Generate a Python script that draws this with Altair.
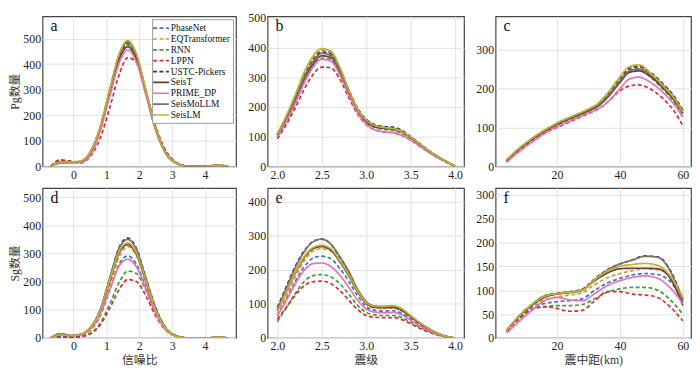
import altair as alt
import pandas as pd

MODELS = ["PhaseNet", "EQTransformer", "RNN", "LPPN", "USTC-Pickers",
          "SeisT", "PRIME_DP", "SeisMoLLM", "SeisLM"]
COLORS = ["#4272B8", "#F28A30", "#3C9C3C", "#D92B2B", "#4E2F60",
          "#6E3B2F", "#E872B8", "#7D6E6E", "#B8B42C"]
DASHES = [[4, 2.5]] * 5 + [[1, 0]] * 4
WIDTHS = [1.7] * 8 + [2.6]

X_SNR = [-0.7, -0.4, -0.1, 0.2, 0.5, 0.8, 1.1, 1.4, 1.65, 1.9, 2.2, 2.5, 2.8, 3.1, 3.5, 4.0, 4.4, 4.7]
X_MAG = [2.0, 2.1, 2.2, 2.3, 2.4, 2.5, 2.6, 2.7, 2.8, 2.9, 3.0, 3.1, 3.2, 3.3, 3.4, 3.5, 3.6, 3.7, 3.8, 3.9, 4.0]
X_DIST_P = [4, 8, 12, 16, 20, 25, 30, 33, 36, 40, 43, 46, 50, 54, 57, 60]
X_DIST_S = [4, 8, 12, 16, 20, 24, 28, 32, 36, 40, 44, 48, 52, 56, 60]

# a: Pg count vs SNR
PG_SNR = {
    "PhaseNet":      [0, 18, 16, 18, 52, 146, 294, 435, 482, 435, 294, 147, 54, 15, 0, 0, 3, 0],
    "EQTransformer": [0, 24, 20, 16, 48, 140, 288, 430, 478, 432, 292, 147, 54, 15, 0, 0, 3, 0],
    "RNN":           [0, 20, 18, 16, 45, 138, 286, 428, 476, 430, 292, 146, 54, 14, 0, 0, 3, 0],
    "LPPN":          [0, 25, 20, 12, 37, 106, 228, 363, 425, 408, 293, 157, 63, 18, 0, 0, 3, 0],
    "USTC-Pickers":  [0, 15, 15, 18, 52, 146, 296, 438, 485, 438, 296, 148, 54, 15, 0, 0, 4, 0],
    "SeisT":         [0, 14, 15, 18, 50, 142, 285, 422, 468, 422, 285, 143, 52, 14, 0, 0, 4, 0],
    "PRIME_DP":      [0, 12, 14, 14, 42, 132, 272, 408, 455, 412, 280, 142, 52, 14, 0, 0, 3, 0],
    "SeisMoLLM":     [0, 15, 16, 19, 54, 148, 297, 440, 488, 440, 297, 148, 54, 15, 0, 0, 5, 0],
    "SeisLM":        [0, 16, 17, 20, 55, 150, 300, 444, 492, 444, 300, 150, 55, 15, 0, 0, 5, 0],
}

# b: Pg count vs magnitude
PG_MAG = {
    "PhaseNet":      [106, 165, 232, 305, 362, 389, 382, 330, 256, 192, 150, 132, 127, 123, 114, 96, 74, 52, 33, 16, 0],
    "EQTransformer": [108, 168, 236, 310, 366, 392, 385, 332, 258, 193, 152, 134, 128, 124, 115, 97, 75, 53, 33, 16, 0],
    "RNN":           [100, 150, 210, 280, 336, 364, 360, 316, 248, 187, 148, 130, 124, 121, 112, 94, 72, 51, 32, 15, 0],
    "LPPN":          [93, 140, 196, 258, 308, 334, 332, 295, 233, 177, 140, 122, 116, 113, 104, 88, 68, 48, 30, 14, 0],
    "USTC-Pickers":  [105, 162, 228, 300, 356, 384, 378, 330, 260, 197, 158, 140, 134, 132, 121, 100, 77, 54, 34, 16, 0],
    "SeisT":         [104, 160, 222, 290, 343, 372, 366, 320, 250, 189, 150, 133, 128, 126, 116, 97, 74, 52, 33, 16, 0],
    "PRIME_DP":      [100, 152, 212, 280, 333, 360, 354, 310, 243, 182, 142, 122, 116, 113, 105, 88, 68, 48, 30, 14, 0],
    "SeisMoLLM":     [107, 163, 228, 298, 352, 380, 372, 325, 255, 193, 155, 137, 131, 128, 118, 98, 75, 53, 33, 16, 0],
    "SeisLM":        [110, 170, 240, 315, 370, 396, 388, 335, 260, 195, 155, 137, 131, 127, 117, 98, 76, 54, 34, 16, 0],
}

# c: Pg count vs epicentral distance
PG_DIST = {
    "PhaseNet":      [15, 44, 69, 90, 108, 126, 144, 158, 182, 222, 248, 252, 232, 200, 172, 135],
    "EQTransformer": [15, 45, 70, 92, 110, 128, 146, 160, 186, 230, 255, 258, 235, 200, 172, 135],
    "RNN":           [12, 40, 65, 88, 106, 124, 142, 155, 178, 218, 244, 248, 228, 196, 168, 125],
    "LPPN":          [12, 40, 64, 85, 100, 118, 136, 147, 165, 195, 207, 210, 198, 172, 145, 105],
    "USTC-Pickers":  [15, 45, 70, 92, 110, 128, 146, 160, 185, 226, 252, 257, 240, 210, 183, 145],
    "SeisT":         [16, 45, 69, 90, 108, 126, 143, 155, 177, 216, 242, 246, 230, 200, 174, 138],
    "PRIME_DP":      [10, 38, 62, 84, 102, 120, 138, 148, 165, 200, 225, 230, 215, 188, 162, 128],
    "SeisMoLLM":     [16, 46, 70, 92, 110, 128, 146, 158, 180, 220, 246, 251, 236, 207, 180, 142],
    "SeisLM":        [17, 47, 72, 93, 112, 130, 148, 162, 188, 230, 257, 262, 238, 205, 178, 140],
}

# d: Sg count vs SNR
SG_SNR = {
    "PhaseNet":      [0, 6, 4, 8, 25, 75, 170, 265, 292, 265, 180, 90, 32, 8, 0, 0, 2, 0],
    "EQTransformer": [0, 6, 4, 8, 25, 80, 185, 292, 325, 298, 205, 102, 36, 9, 0, 0, 2, 0],
    "RNN":           [0, 4, 3, 5, 15, 50, 120, 200, 238, 230, 170, 88, 32, 8, 0, 0, 2, 0],
    "LPPN":          [0, 5, 3, 5, 14, 45, 105, 175, 208, 202, 150, 78, 28, 7, 0, 0, 2, 0],
    "USTC-Pickers":  [0, 8, 5, 10, 32, 95, 210, 325, 355, 322, 215, 108, 38, 9, 0, 0, 2, 0],
    "SeisT":         [0, 15, 9, 12, 35, 93, 200, 305, 332, 300, 200, 98, 34, 8, 0, 0, 3, 0],
    "PRIME_DP":      [0, 10, 8, 11, 30, 82, 172, 258, 280, 255, 175, 88, 30, 7, 0, 0, 3, 0],
    "SeisMoLLM":     [0, 15, 9, 13, 36, 98, 212, 322, 350, 318, 212, 105, 36, 9, 0, 0, 3, 0],
    "SeisLM":        [0, 12, 8, 12, 35, 95, 205, 310, 338, 305, 205, 100, 35, 8, 0, 0, 3, 0],
}

# e: Sg count vs magnitude
SG_MAG = {
    "PhaseNet":      [65, 115, 165, 208, 234, 240, 233, 205, 168, 125, 92, 81, 79, 80, 72, 56, 39, 24, 12, 4, 0],
    "EQTransformer": [70, 122, 178, 225, 255, 262, 255, 225, 185, 138, 100, 88, 87, 88, 80, 62, 43, 27, 14, 5, 0],
    "RNN":           [48, 88, 130, 165, 183, 186, 180, 160, 130, 97, 75, 68, 66, 66, 60, 46, 32, 20, 10, 3, 0],
    "LPPN":          [55, 90, 125, 153, 165, 167, 160, 140, 112, 84, 66, 61, 60, 60, 54, 42, 29, 18, 9, 3, 0],
    "USTC-Pickers":  [90, 150, 210, 255, 283, 290, 275, 238, 195, 142, 105, 92, 90, 90, 80, 62, 44, 27, 14, 5, 0],
    "SeisT":         [80, 135, 190, 235, 262, 268, 258, 225, 184, 137, 102, 90, 89, 90, 82, 63, 44, 28, 14, 5, 0],
    "PRIME_DP":      [65, 110, 158, 198, 218, 220, 210, 185, 150, 112, 85, 76, 74, 75, 68, 52, 36, 22, 11, 4, 0],
    "SeisMoLLM":     [85, 145, 205, 252, 282, 290, 276, 240, 197, 145, 107, 94, 92, 93, 84, 64, 45, 28, 14, 5, 0],
    "SeisLM":        [78, 135, 192, 238, 265, 272, 262, 228, 187, 140, 104, 93, 93, 95, 86, 66, 46, 29, 15, 5, 0],
}

# f: Sg count vs epicentral distance
SG_DIST = {
    "PhaseNet":      [15, 42, 65, 72, 76, 78, 82, 100, 115, 125, 132, 135, 133, 118, 78],
    "EQTransformer": [15, 45, 68, 80, 86, 90, 95, 112, 126, 135, 141, 145, 143, 128, 85],
    "RNN":           [15, 42, 60, 65, 68, 68, 70, 82, 96, 103, 106, 106, 100, 80, 50],
    "LPPN":          [14, 40, 60, 66, 62, 56, 58, 78, 97, 97, 92, 90, 85, 65, 36],
    "USTC-Pickers":  [15, 46, 70, 88, 94, 97, 102, 124, 143, 155, 164, 172, 170, 142, 80],
    "SeisT":         [16, 45, 68, 85, 92, 95, 100, 120, 136, 145, 146, 146, 145, 125, 68],
    "PRIME_DP":      [10, 35, 58, 78, 85, 80, 78, 93, 110, 120, 127, 130, 125, 105, 72],
    "SeisMoLLM":     [16, 46, 70, 88, 93, 96, 101, 122, 142, 155, 163, 171, 169, 140, 75],
    "SeisLM":        [16, 46, 70, 87, 93, 96, 100, 122, 140, 150, 154, 156, 152, 130, 85],
}

NUMFONT = "Liberation Serif"
CJKFONT = "Liberation Serif, Noto Sans CJK SC"
PANEL_H = 152


def panel(xs, series, xdom, ydom, xticks, yticks, letter, width,
          xfmt="d", xtitle=None, ytitle=None, legend=False):
    rows = []
    for m in MODELS:
        for x, v in zip(xs, series[m]):
            rows.append({"x": x, "v": v, "model": m})
    df = pd.DataFrame(rows)
    if legend:
        leg = alt.Legend(orient="top-right", offset=3, padding=3,
                         fillColor="white", strokeColor="#9a9a9a",
                         symbolType="M-1.6,0H1.6", symbolSize=100,
                         labelFont=NUMFONT, labelFontSize=9.5, labelColor="#111",
                         rowPadding=0, labelOffset=4, title=None)
    else:
        leg = None
    xaxis = alt.Axis(values=xticks, format=xfmt, title=xtitle if xtitle else "",
                     titlePadding=3, labelFont=NUMFONT, titleFont=CJKFONT)
    yaxis = alt.Axis(values=yticks, title=ytitle if ytitle else "", titlePadding=1,
                     labelFont=NUMFONT, titleFont=CJKFONT, labelPadding=2)
    lines = alt.Chart(df).mark_line(interpolate="monotone", clip=True).encode(
        x=alt.X("x:Q", scale=alt.Scale(domain=xdom, nice=False, zero=False), axis=xaxis),
        y=alt.Y("v:Q", scale=alt.Scale(domain=ydom, nice=False), axis=yaxis),
        color=alt.Color("model:N", scale=alt.Scale(domain=MODELS, range=COLORS), legend=leg),
        strokeDash=alt.StrokeDash("model:N", scale=alt.Scale(domain=MODELS, range=DASHES), legend=leg),
        strokeWidth=alt.StrokeWidth("model:N", scale=alt.Scale(domain=MODELS, range=WIDTHS), legend=leg),
        order=alt.Order("ord:Q"),
    ).transform_calculate(
        ord="indexof(" + str(MODELS) + ", datum.model)"
    )
    label = alt.Chart(pd.DataFrame({"t": [letter]})).mark_text(
        font=NUMFONT, fontSize=16, align="left", baseline="alphabetic", color="#111"
    ).encode(x=alt.value(8), y=alt.value(15), text="t:N")
    return alt.layer(lines, label).properties(width=width, height=PANEL_H)


a = panel(X_SNR, PG_SNR, [-0.94, 4.94], [0, 587], [0, 1, 2, 3, 4], [0, 100, 200, 300, 400, 500],
          "a", 196, ytitle="Pg数量", legend=True)
b = panel(X_MAG, PG_MAG, [1.89, 4.1], [0, 505], [2.0, 2.5, 3.0, 3.5, 4.0], [0, 100, 200, 300, 400, 500],
          "b", 199, xfmt=".1f")
c = panel(X_DIST_P, PG_DIST, [0.5, 62.6], [0, 387], [20, 40, 60], [0, 100, 200, 300],
          "c", 198)
d = panel(X_SNR, SG_SNR, [-0.94, 4.94], [0, 533], [0, 1, 2, 3, 4], [0, 100, 200, 300, 400, 500],
          "d", 196, xtitle="信噪比", ytitle="Sg数量")
e = panel(X_MAG, SG_MAG, [1.89, 4.1], [0, 440], [2.0, 2.5, 3.0, 3.5, 4.0], [0, 100, 200, 300, 400],
          "e", 199, xfmt=".1f", xtitle="震级")
f = panel(X_DIST_S, SG_DIST, [0.5, 62.6], [0, 314], [20, 40, 60], [0, 50, 100, 150, 200, 250, 300],
          "f", 198, xtitle="震中距(km)")

chart = alt.concat(a, b, c, d, e, f, columns=3,
                   spacing={"row": 22, "column": 32}, bounds="flush").resolve_scale(
    color="independent", strokeDash="independent", strokeWidth="independent"
).properties(
    padding={"left": 0, "top": 0, "right": 0, "bottom": 0}
).configure_view(
    stroke="#444444", strokeWidth=1.2
).configure_axis(
    grid=True, gridColor="#e2e2e2", gridWidth=1, domain=False, ticks=False,
    labelFont=NUMFONT, labelFontSize=12, labelColor="#222", labelPadding=3,
    titleFont=CJKFONT, titleFontSize=12, titleFontWeight="normal", titleColor="#333"
)

chart.save("out.html", embed_options={"renderer": "svg", "actions": False})
